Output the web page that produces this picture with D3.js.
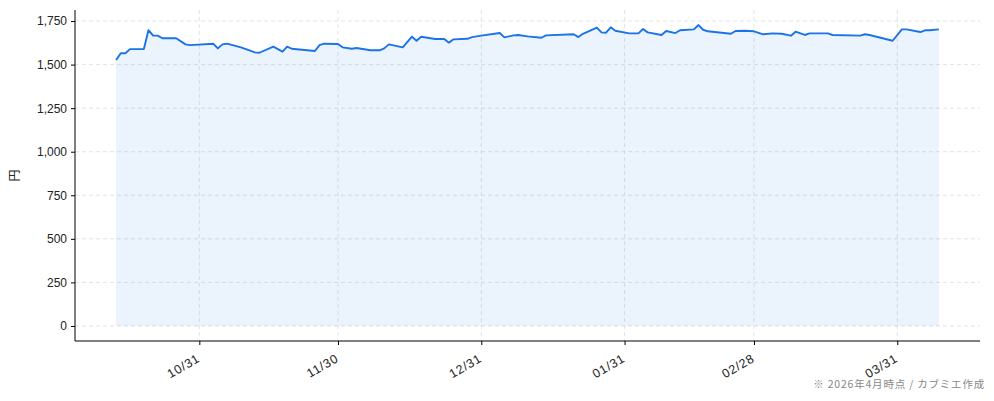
<!DOCTYPE html>
<html><head><meta charset="utf-8">
<script src="https://cdn.jsdelivr.net/npm/d3@7"></script>
<style>
html,body{margin:0;padding:0;background:#fff;}
svg{display:block;font-family:"Noto Sans CJK JP","Noto Sans",sans-serif;}
</style></head>
<body><svg id="chart" width="994" height="401"></svg>
<script>
const dates = ["2025-10-13","2025-10-14","2025-10-15","2025-10-16","2025-10-19","2025-10-20","2025-10-21","2025-10-22","2025-10-23","2025-10-26","2025-10-28","2025-10-29","2025-11-03","2025-11-04","2025-11-05","2025-11-06","2025-11-09","2025-11-11","2025-11-12","2025-11-13","2025-11-16","2025-11-18","2025-11-19","2025-11-20","2025-11-25","2025-11-26","2025-11-27","2025-11-30","2025-12-01","2025-12-03","2025-12-04","2025-12-07","2025-12-09","2025-12-10","2025-12-11","2025-12-14","2025-12-16","2025-12-17","2025-12-18","2025-12-21","2025-12-23","2025-12-24","2025-12-25","2025-12-28","2025-12-29","2025-12-31","2026-01-04","2026-01-05","2026-01-07","2026-01-08","2026-01-10","2026-01-13","2026-01-14","2026-01-20","2026-01-21","2026-01-22","2026-01-25","2026-01-26","2026-01-27","2026-01-28","2026-01-29","2026-02-01","2026-02-03","2026-02-04","2026-02-05","2026-02-08","2026-02-09","2026-02-11","2026-02-12","2026-02-15","2026-02-16","2026-02-17","2026-02-18","2026-02-23","2026-02-24","2026-02-26","2026-02-28","2026-03-02","2026-03-04","2026-03-06","2026-03-08","2026-03-09","2026-03-11","2026-03-12","2026-03-16","2026-03-17","2026-03-23","2026-03-24","2026-03-25","2026-03-30","2026-04-01","2026-04-02","2026-04-05","2026-04-06","2026-04-07","2026-04-09"];
const prices = [1526,1565,1565,1589,1589,1698,1666,1666,1651,1651,1616,1612,1620,1593,1616,1620,1599,1580,1570,1568,1603,1574,1603,1591,1578,1612,1620,1618,1599,1591,1595,1582,1582,1593,1616,1599,1660,1637,1660,1647,1647,1626,1645,1648,1658,1666,1681,1656,1668,1670,1662,1654,1668,1674,1658,1677,1712,1685,1683,1714,1694,1679,1679,1704,1685,1670,1693,1681,1697,1702,1727,1700,1691,1677,1693,1694,1691,1674,1679,1677,1666,1689,1670,1679,1679,1670,1666,1674,1670,1637,1702,1702,1687,1697,1697,1702];
const xTickDates = ["2025-10-31","2025-11-30","2025-12-31","2026-01-31","2026-02-28","2026-03-31"];
const xTickLabels = ["10/31","11/30","12/31","01/31","02/28","03/31"];
const yTicks = [0,250,500,750,1000,1250,1500,1750];
const yLabel = "円";
const footnote = "※ 2026年4月時点 / カブミエ作成";

const parse = d3.timeParse("%Y-%m-%d");
const data = dates.map((d,i)=>({date:parse(d), v:prices[i]}));

const svg = d3.select("#chart");
const L=75, R=980, T=10, B=341;

const ext = d3.extent(data, d=>d.date);
const span = ext[1]-ext[0];
const x = d3.scaleTime().domain([new Date(+ext[0]-span*0.05), new Date(+ext[1]+span*0.05)]).range([L,R]);
const vmax = d3.max(prices);
const y = d3.scaleLinear().domain([-vmax*0.05, vmax*1.05]).range([B,T]);

// grid
const g = svg.append("g");
g.selectAll(".yg").data(yTicks).join("line")
  .attr("x1",L).attr("x2",R).attr("y1",d=>y(d)).attr("y2",d=>y(d))
  .attr("stroke","#dcdcdc").attr("stroke-width",0.8).attr("stroke-dasharray","4,3");
g.selectAll(".xg").data(xTickDates.map(parse)).join("line")
  .attr("y1",T).attr("y2",B).attr("x1",d=>x(d)).attr("x2",d=>x(d))
  .attr("stroke","#dcdcdc").attr("stroke-width",0.8).attr("stroke-dasharray","4,3");

// area + line
svg.append("path").datum(data)
  .attr("d", d3.area().x(d=>x(d.date)).y0(y(0)).y1(d=>y(d.v)))
  .attr("fill","#1a73e8").attr("fill-opacity",0.085);
svg.append("path").datum(data)
  .attr("d", d3.line().x(d=>x(d.date)).y(d=>y(d.v)))
  .attr("fill","none").attr("stroke","#1a73e8").attr("stroke-width",1.9).attr("stroke-linejoin","round");

// axes
const yAxis = d3.axisLeft(y).tickValues(yTicks).tickFormat(d3.format(",")).tickSize(4).tickPadding(4);
const ya = svg.append("g").attr("transform",`translate(${L},0)`).call(yAxis);
ya.select(".domain").attr("d",`M0,${T}V${B}`).attr("stroke","#000").attr("stroke-width",1);
ya.selectAll("text").attr("font-size",12).attr("fill","#222");

const xAxis = d3.axisBottom(x).tickValues(xTickDates.map(parse)).tickFormat((d,i)=>xTickLabels[i]).tickSize(4).tickPadding(4);
const xa = svg.append("g").attr("transform",`translate(0,${B})`).call(xAxis);
xa.select(".domain").attr("d",`M${L},0H${R}`).attr("stroke","#000").attr("stroke-width",1);
xa.selectAll("text").attr("font-size",12.5).attr("letter-spacing","0.8px").attr("fill","#222")
  .attr("text-anchor","end").attr("dy","0").attr("transform","translate(-3,13) rotate(-30)");

svg.append("text").attr("transform",`translate(19,${(T+B)/2}) rotate(-90)`)
  .attr("text-anchor","middle").attr("font-size",12).attr("fill","#222").text(yLabel);

svg.append("text").attr("x",985).attr("y",388).attr("text-anchor","end")
  .attr("font-size",10.5).attr("letter-spacing","0.8px").attr("fill","#888").text(footnote);
</script></body></html>
